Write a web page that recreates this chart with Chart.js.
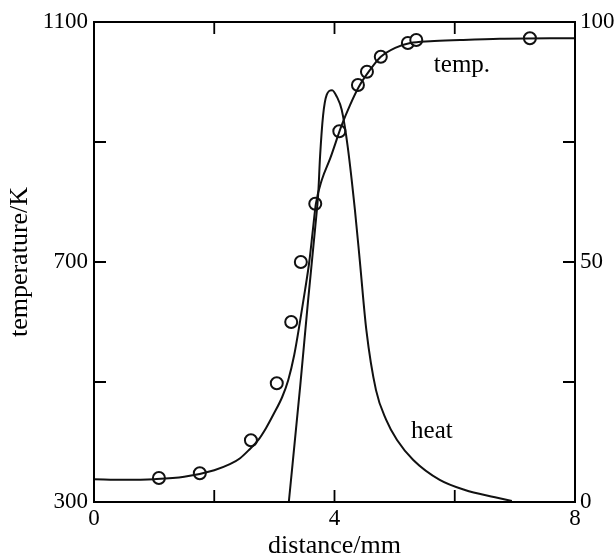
<!DOCTYPE html>
<html>
<head>
<meta charset="utf-8">
<script src="https://cdn.jsdelivr.net/npm/chart.js@4.4.0/dist/chart.umd.min.js"></script>
<style>
html,body{margin:0;padding:0;background:#fff;}
#wrap{width:615px;height:559px;position:relative;}
</style>
</head>
<body>
<div id="wrap"><canvas id="c" width="615" height="559"></canvas></div>
<script>
// measured temperature points (distance mm, K)
const measDist = [1.08, 1.76, 2.61, 3.04, 3.28, 3.44, 3.68, 4.08, 4.39, 4.54, 4.77, 5.22, 5.36, 7.25];
const measTemp = [340, 348, 403, 498, 600, 700, 797, 918, 995, 1017, 1042, 1065, 1070, 1073];
// smooth temperature curve (distance mm, K)
const tempDist = [0, 0.5, 1.0, 1.5, 2.0, 2.26, 2.43, 2.59, 2.73, 2.86, 2.99, 3.13, 3.23, 3.33, 3.43, 3.51, 3.58, 3.64, 3.69, 3.79, 3.93, 4.12, 4.26, 4.41, 4.59, 4.77, 5.01, 5.26, 5.59, 6.09, 6.75, 8.0];
const tempVal  = [338, 337, 338, 342, 353, 363, 373, 388, 403, 423, 447, 475, 503, 545, 603, 653, 700, 753, 797, 837, 873, 928, 962, 993, 1020, 1042, 1057, 1065, 1068, 1070, 1072, 1073];
// heat release curve (distance mm, right axis 0-100)
const heatDist = [3.24, 3.43, 3.56, 3.68, 3.73, 3.76, 3.81, 3.87, 3.96, 4.04, 4.12, 4.22, 4.34, 4.42, 4.53, 4.69, 4.86, 5.04, 5.31, 5.75, 6.17, 6.67, 6.95];
const heatVal  = [0, 24.2, 41.9, 57.3, 64.4, 72, 80.5, 84.8, 85.8, 84.4, 81.7, 74, 60.8, 50.4, 35.8, 23.3, 17.1, 12.9, 8.75, 4.6, 2.5, 1.0, 0.2];
// tick labels
const xTickLabels = [0, 4, 8];
const tempTickLabels = [300, 700, 1100];
const heatTickLabels = [0, 50, 100];
const xMinorTicks = [2, 4, 6];
const tempMinorTicks = [500, 700, 900];
// annotations
const notes = [
  {text: 'temp.', x: 6.12, y: 1027, axis: 'y'},
  {text: 'heat', x: 5.62, y: 14.6, axis: 'y2'}
];

const FONT = '"Liberation Serif", "DejaVu Serif", serif';

const toXY = (xs, ys) => xs.map((x, i) => ({x: x, y: ys[i]}));

const framePlugin = {
  id: 'frame',
  afterDraw(chart) {
    const {ctx, chartArea: a, scales} = chart;
    ctx.save();
    ctx.strokeStyle = '#000';
    ctx.lineWidth = 2;
    ctx.strokeRect(a.left, a.top, a.right - a.left, a.bottom - a.top);
    ctx.lineWidth = 1.8;
    const L = 12;
    xMinorTicks.forEach(v => {
      const px = scales.x.getPixelForValue(v);
      ctx.beginPath();
      ctx.moveTo(px, a.bottom); ctx.lineTo(px, a.bottom - L);
      ctx.moveTo(px, a.top); ctx.lineTo(px, a.top + L);
      ctx.stroke();
    });
    tempMinorTicks.forEach(v => {
      const py = scales.y.getPixelForValue(v);
      ctx.beginPath();
      ctx.moveTo(a.left, py); ctx.lineTo(a.left + L, py);
      ctx.moveTo(a.right, py); ctx.lineTo(a.right - L, py);
      ctx.stroke();
    });
    ctx.fillStyle = '#000';
    ctx.font = '25px ' + FONT;
    ctx.textAlign = 'center';
    ctx.textBaseline = 'middle';
    notes.forEach(n => {
      ctx.fillText(n.text, scales.x.getPixelForValue(n.x), scales[n.axis].getPixelForValue(n.y));
    });
    ctx.restore();
  }
};

new Chart(document.getElementById('c'), {
  type: 'scatter',
  data: {
    datasets: [
      {
        label: 'temp curve',
        type: 'line',
        data: toXY(tempDist, tempVal),
        yAxisID: 'y',
        borderColor: '#111',
        borderWidth: 2,
        pointRadius: 0,
        fill: false,
        cubicInterpolationMode: 'monotone'
      },
      {
        label: 'heat',
        type: 'line',
        data: toXY(heatDist, heatVal),
        yAxisID: 'y2',
        borderColor: '#111',
        borderWidth: 2,
        pointRadius: 0,
        fill: false,
        cubicInterpolationMode: 'monotone'
      },
      {
        label: 'measured',
        type: 'scatter',
        data: toXY(measDist, measTemp),
        yAxisID: 'y',
        pointRadius: 6,
        pointBackgroundColor: '#fff',
        pointBorderColor: '#111',
        pointBorderWidth: 2
      }
    ]
  },
  options: {
    responsive: false,
    animation: false,
    layout: {padding: {top: 22, left: 0, right: 0, bottom: 0}},
    plugins: {legend: {display: false}, tooltip: {enabled: false}},
    scales: {
      x: {
        type: 'linear', position: 'bottom', min: 0, max: 8,
        grid: {display: false, drawTicks: false}, border: {display: false},
        ticks: {
          stepSize: 2, color: '#000', padding: 3,
          font: {family: FONT, size: 23},
          callback: v => xTickLabels.includes(v) ? String(v) : ''
        },
        title: {display: true, text: 'distance/mm', color: '#000', font: {family: FONT, size: 26, lineHeight: 1.0}, padding: {top: 0, bottom: 0}},
        afterFit: s => { s.height = 57; }
      },
      y: {
        type: 'linear', position: 'left', min: 300, max: 1100,
        grid: {display: false, drawTicks: false}, border: {display: false},
        ticks: {
          stepSize: 200, color: '#000', padding: 6,
          font: {family: FONT, size: 23},
          callback: v => tempTickLabels.includes(v) ? String(v) : ''
        },
        title: {display: true, text: 'temperature/K', color: '#000', font: {family: FONT, size: 26, lineHeight: 1.0}, padding: {top: 7, bottom: 0}},
        afterFit: s => { s.width = 94; }
      },
      y2: {
        type: 'linear', position: 'right', min: 0, max: 100,
        grid: {display: false, drawTicks: false}, border: {display: false},
        ticks: {
          stepSize: 25, color: '#000', padding: 5,
          font: {family: FONT, size: 23},
          callback: v => heatTickLabels.includes(v) ? String(v) : ''
        },
        afterFit: s => { s.width = 40; }
      }
    }
  },
  plugins: [framePlugin]
});
</script>
</body>
</html>
